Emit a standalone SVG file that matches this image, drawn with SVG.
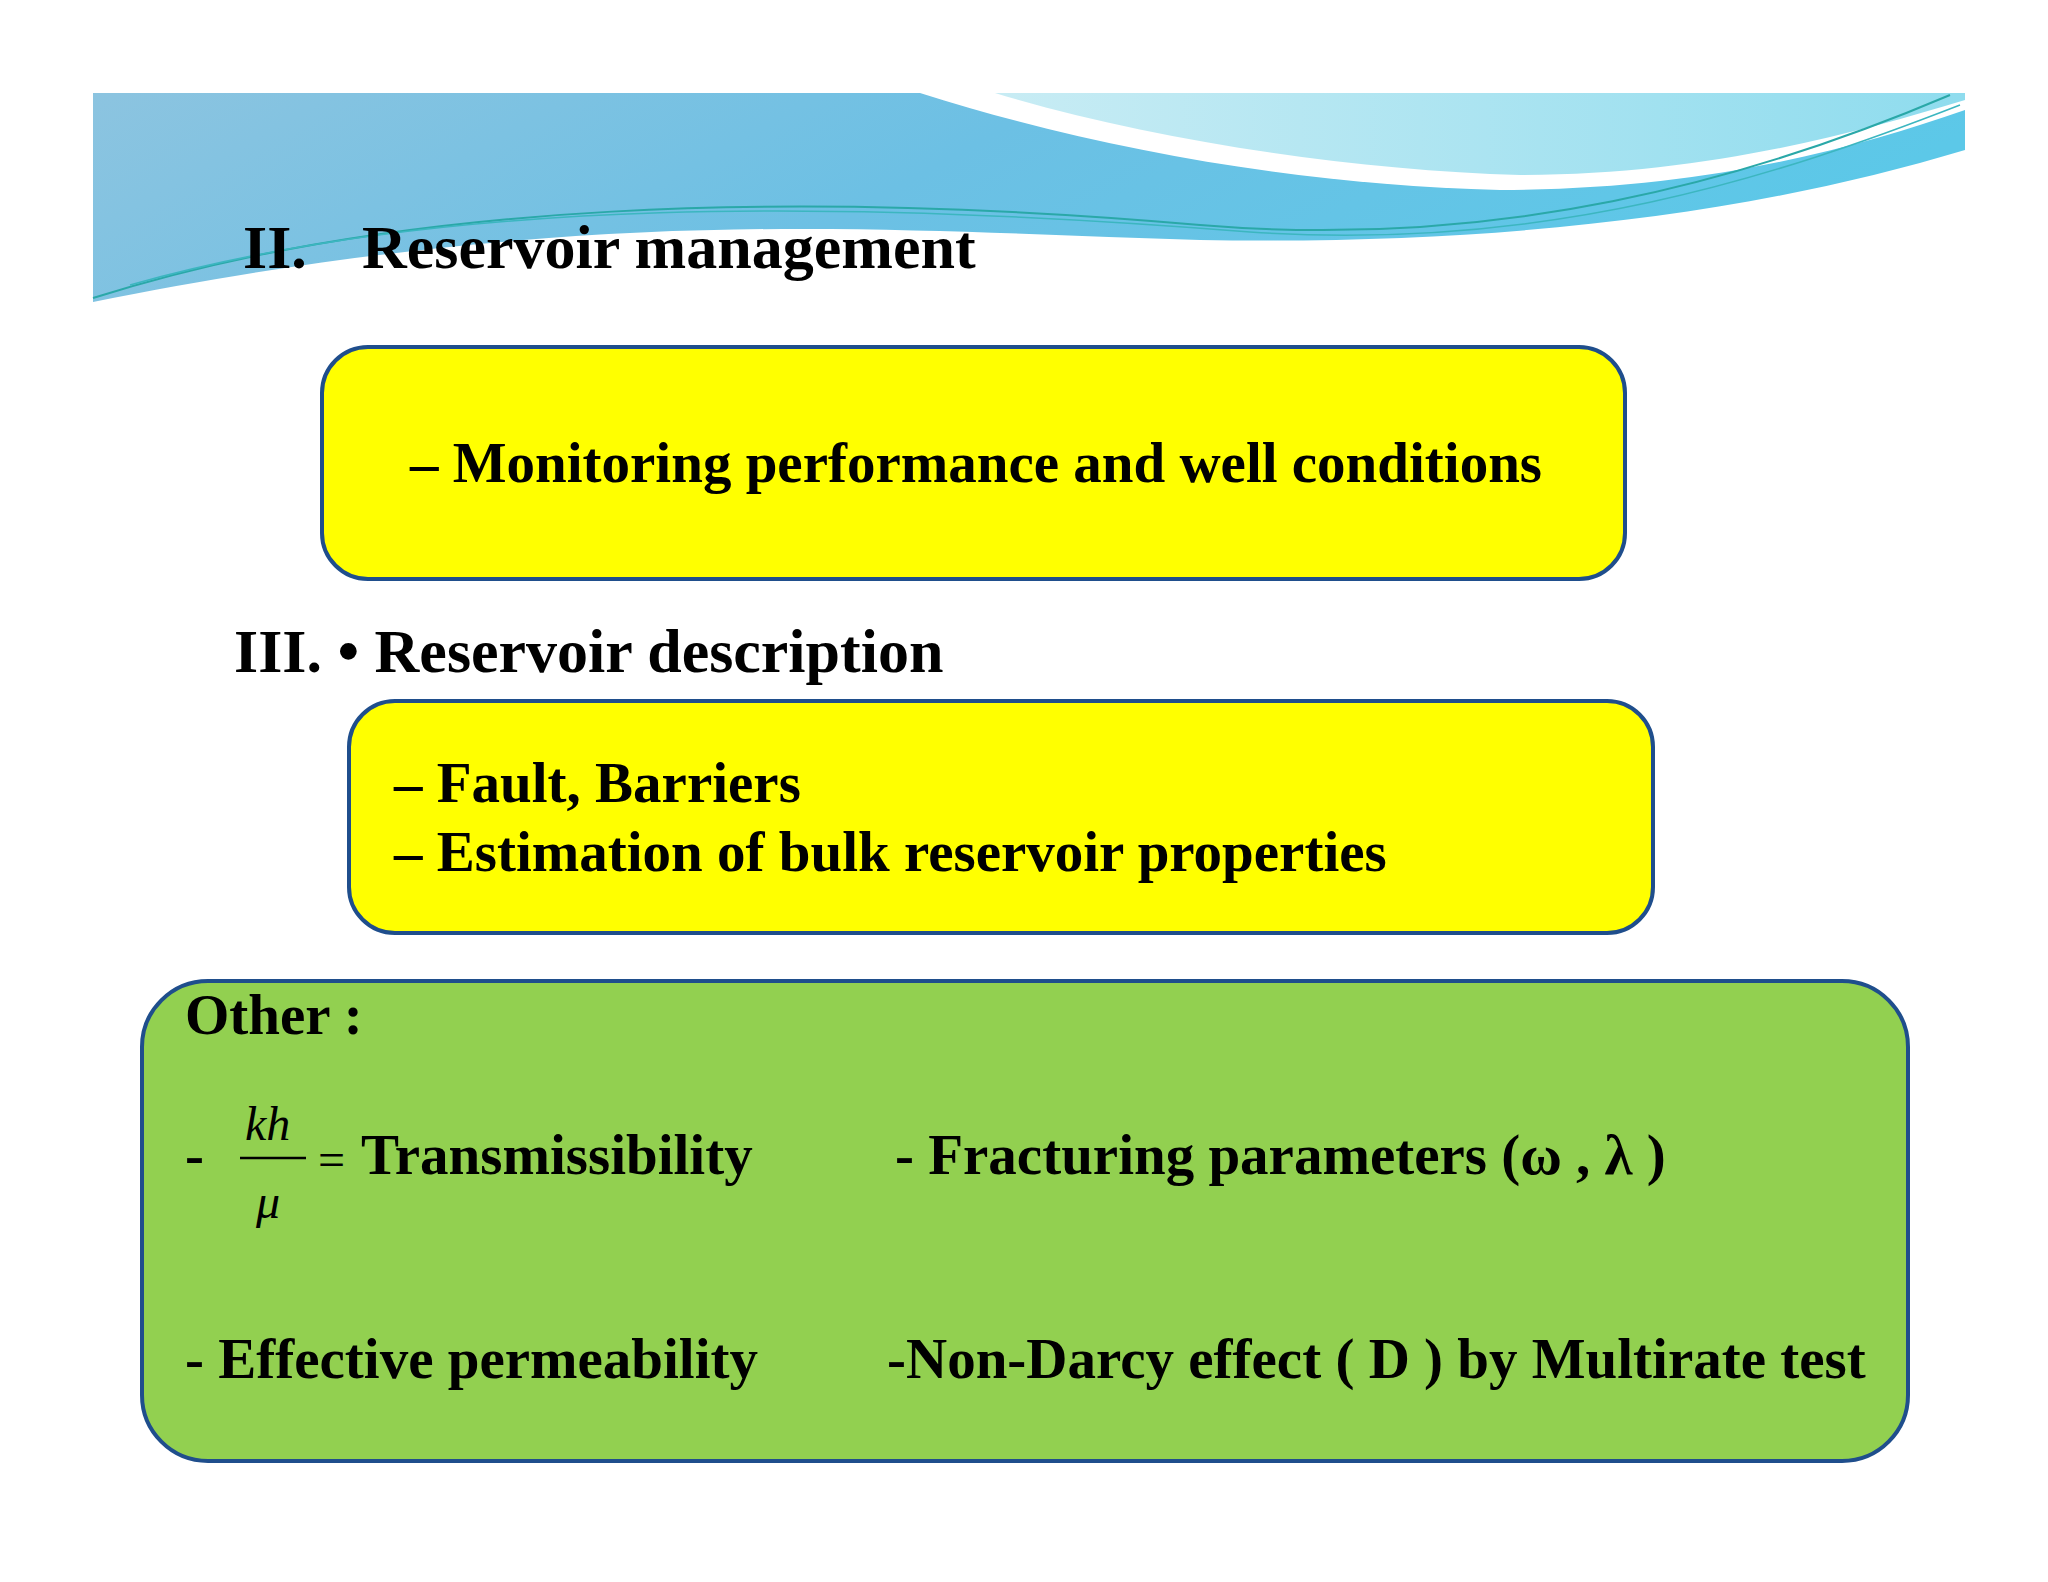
<svg xmlns="http://www.w3.org/2000/svg" width="2048" height="1582" viewBox="0 0 2048 1582">
<defs>
<linearGradient id="sky" x1="0" y1="0" x2="1" y2="0.2">
<stop offset="0" stop-color="#8cc4e0"/><stop offset="0.5" stop-color="#6cc0e4"/><stop offset="1" stop-color="#5cc8e8"/>
</linearGradient>
<linearGradient id="sky2" x1="0" y1="0" x2="1" y2="0">
<stop offset="0" stop-color="#c8ecf4"/><stop offset="1" stop-color="#8fdcee"/>
</linearGradient>
<style>
.t{font-family:"Liberation Serif",serif;font-weight:bold;fill:#000}
.box{stroke:#1f4e8c;stroke-width:4}
</style>
</defs>
<rect width="2048" height="1582" fill="#fff"/>
<g id="banner">
<path d="M93,93 L1965,93 L1965,150 C1750,215 1500,245 1200,240 C900,232 600,200 93,302 Z" fill="url(#sky)"/>
<path d="M920,93 C1100,150 1300,185 1500,190 C1700,190 1850,150 1965,110 L1965,93 Z" fill="#fff"/>
<path d="M995,93 C1150,140 1350,170 1520,175 C1700,175 1850,135 1965,100 L1965,93 Z" fill="url(#sky2)"/>
<path d="M93,298 C400,200 800,190 1200,225 C1500,250 1750,180 1950,95" fill="none" stroke="#2aa8a8" stroke-width="2"/>
<path d="M130,285 C450,195 850,200 1250,232 C1550,252 1780,175 1960,105" fill="none" stroke="#3cb6c0" stroke-width="1.5"/>
</g>
<g id="title"><text class="t" x="243" y="268" font-size="62">II.<tspan x="362">Reservoir management</tspan></text></g>
<g id="box1">
<rect class="box" x="322" y="347" width="1303" height="232" rx="46" fill="#ffff00"/>
<text class="t" x="410" y="482" font-size="57">– Monitoring performance and well conditions</text>
</g>
<g id="heading3"><text class="t" x="234" y="672" font-size="62">III. • Reservoir description</text></g>
<g id="box2">
<rect class="box" x="349" y="701" width="1304" height="232" rx="46" fill="#ffff00"/>
<text class="t" x="394" y="802" font-size="57">– Fault, Barriers</text>
<text class="t" x="394" y="871" font-size="57">– Estimation of bulk reservoir properties</text>
</g>
<g id="box3">
<rect class="box" x="142" y="981" width="1766" height="480" rx="66" fill="#92d050"/>
<text class="t" x="185" y="1034" font-size="57">Other :</text>
<text class="t" x="185" y="1174" font-size="57">-</text>
<text x="245" y="1140" font-size="48" font-family="Liberation Serif,serif" font-style="italic">kh</text>
<line x1="240" y1="1158" x2="306" y2="1158" stroke="#000" stroke-width="2.5"/>
<text x="256" y="1218" font-size="48" font-family="Liberation Serif,serif" font-style="italic">μ</text>
<text x="318" y="1176" font-size="48" font-family="Liberation Serif,serif">=</text>
<text class="t" x="361" y="1174" font-size="57">Transmissibility</text>
<text class="t" x="895" y="1174" font-size="57">- Fracturing parameters (ω , λ )</text>
<text class="t" x="185" y="1378" font-size="57">- Effective permeability</text>
<text class="t" x="887" y="1378" font-size="57">-Non-Darcy effect ( D ) by Multirate test</text>
</g>
<g id="connectors"/>
</svg>
